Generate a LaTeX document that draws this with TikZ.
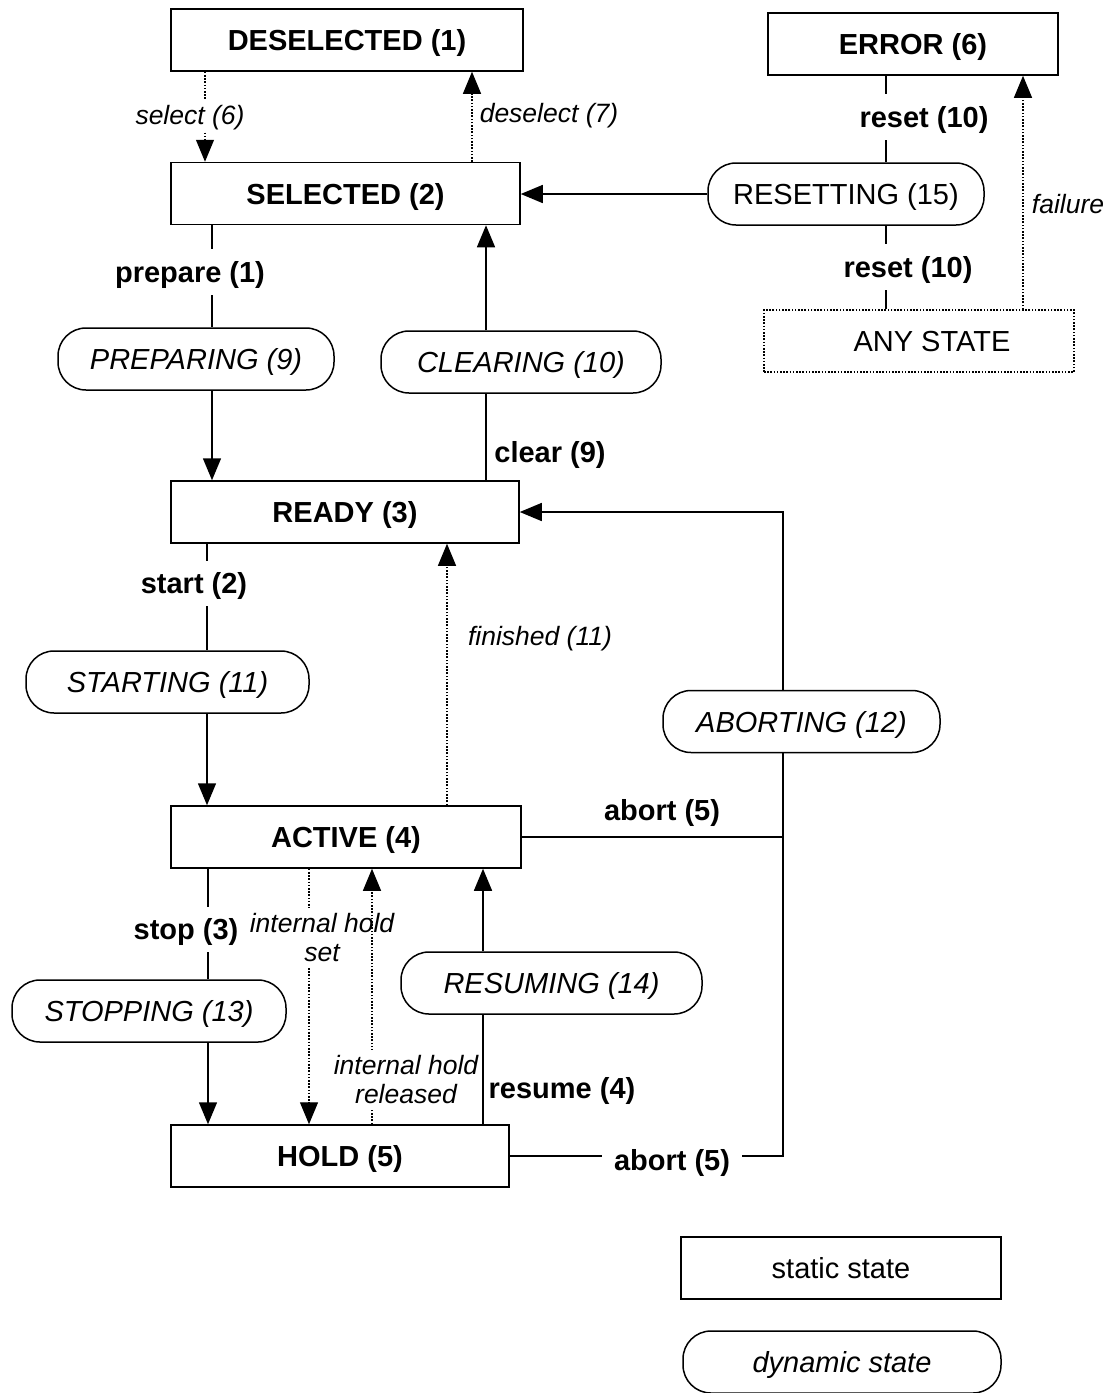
\documentclass[tikz,border=0pt]{standalone}
\usepackage{fontspec}
\setmainfont{Liberation Sans}
\usepackage{tikz}
\usetikzlibrary{calc}
\usetikzlibrary{arrows.meta}
\def\statefont{\fontsize{29}{33}\selectfont\bfseries}
\def\dynfont{\fontsize{29}{33}\selectfont\itshape}
\def\evfont{\fontsize{29}{33}\selectfont\bfseries}
\def\condfont{\fontsize{26.5}{31}\selectfont\itshape}

\begin{document}
\begin{tikzpicture}[x=1pt,y=-1pt,line width=1.5pt,
	staticstate/.style={draw,rectangle,minimum height=62pt,inner sep=0pt,text depth=0pt,font=\statefont},
	dynstate/.style={draw,rectangle,rounded corners=28pt,minimum height=62pt,inner sep=0pt,text depth=0pt,font=\dynfont},
	ev/.style={font=\evfont,inner sep=4pt,text depth=0pt},
	evcut/.style={ev,fill=white,inner sep=12pt},
	cond/.style={font=\condfont,inner sep=3pt,align=center},
	condcut/.style={cond,fill=white,inner sep=6pt},
	trans/.style={-{Triangle[width=18pt,length=22pt]}},
	dots/.style={line width=1.2pt,dash pattern=on 1.6pt off 1.6pt}]
	\useasboundingbox (0,0) rectangle (1119,1393);
	% columns
	\coordinate (c205) at (205,0);
	\coordinate (c207) at (207,0);
	\coordinate (c208) at (208,0);
	\coordinate (c212) at (212,0);
	\coordinate (c309) at (309,0);
	\coordinate (c372) at (372,0);
	\coordinate (c447) at (447,0);
	\coordinate (c472) at (472,0);
	\coordinate (c483) at (483,0);
	\coordinate (c486) at (486,0);
	\coordinate (c783) at (783,0);
	\coordinate (c886) at (886,0);
	\coordinate (c1023) at (1023,0);
	% states
	\node[staticstate,minimum width=352pt] (desel) at (347,40) {DESELECTED (1)};
	\node[staticstate,minimum width=349pt] (sel) at (345.5,193.5) {SELECTED (2)};
	\node[staticstate,minimum width=290pt] (err) at (913,44) {ERROR (6)};
	\node[dynstate,minimum width=276pt,font=\fontsize{29}{33}\selectfont] (resetting) at (846,194) {RESETTING (15)};
	\node[draw,dots,rectangle,minimum width=310pt,minimum height=62pt,inner sep=0pt,text depth=0pt,font=\fontsize{29}{33}\selectfont] (any) at (919,341) {\hspace*{26pt}ANY STATE};
	\node[dynstate,minimum width=276pt] (prep) at (196,359) {PREPARING (9)};
	\node[dynstate,minimum width=280pt] (clr) at (521,362) {CLEARING (10)};
	\node[staticstate,minimum width=348pt] (ready) at (345,512) {READY (3)};
	\node[dynstate,minimum width=283pt] (starting) at (167.5,682) {STARTING (11)};
	\node[dynstate,minimum width=277pt] (aborting) at (801.5,721.5) {ABORTING (12)};
	\node[staticstate,minimum width=350pt] (active) at (346,837) {ACTIVE (4)};
	\node[dynstate,minimum width=274pt] (stopping) at (149,1011) {STOPPING (13)};
	\node[dynstate,minimum width=301pt] (resuming) at (551.5,983) {RESUMING (14)};
	\node[staticstate,minimum width=338pt] (hold) at (340,1156) {HOLD (5)};
	% legend
	\node[staticstate,minimum width=320pt,font=\fontsize{29}{33}\selectfont] (lstatic) at (841,1268) {static state};
	\node[dynstate,minimum width=318pt] (ldyn) at (842,1362) {dynamic state};
	% transitions
	\draw[trans,dots] (desel.south -| c205) -- (sel.north -| c205);
	\node[condcut,text depth=0pt] (lselect) at (190,115) {select (6)};
	\draw[trans,dots] (sel.north -| c472) -- (desel.south -| c472);
	\node[cond,text depth=0pt] (ldeselect) at (549,113) {deselect (7)};
	\draw[trans] (resetting.west) -- (resetting.west -| sel.east);
	\draw (err.south -| c886) -- (resetting.north -| c886);
	\node[evcut] (lreset1) at (924,117) {reset (10)};
	\draw (resetting.south -| c886) -- (any.north -| c886);
	\node[evcut] (lreset2) at (908,267) {reset (10)};
	\draw[trans,dots] (any.north -| c1023) -- (err.south -| c1023);
	\node[cond,text depth=0pt] (lfailure) at (1068,204) {failure};
	\draw (sel.south -| c212) -- (prep.north -| c212);
	\node[evcut] (lprepare) at (190,272) {prepare (1)};
	\draw[trans] (prep.south -| c212) -- (ready.north -| c212);
	\draw (ready.north -| c486) -- (clr.south -| c486);
	\node[ev] (lclear) at (550,452) {clear (9)};
	\draw[trans] (clr.north -| c486) -- (sel.south -| c486);
	\draw (ready.south -| c207) -- (starting.north -| c207);
	\node[evcut] (lstart) at (194,583) {start (2)};
	\draw[trans] (starting.south -| c207) -- (active.north -| c207);
	\draw[trans,dots] (active.north -| c447) -- (ready.south -| c447);
	\node[cond,text depth=0pt] (lfinished) at (540,636) {finished (11)};
	\draw[trans] (aborting.north -| c783) |- (ready.east);
	\draw (active.east) -- (active.east -| c783);
	\node[ev] (labort1) at (662,810) {abort (5)};
	\draw (aborting.south -| c783) -- (hold.east -| c783) -- (hold.east);
	\node[evcut,inner xsep=12pt,inner ysep=4pt] (labort2) at (672,1160) {abort (5)};
	\draw (active.south -| c208) -- (stopping.north -| c208);
	\node[evcut,inner xsep=0pt] (lstop) at (186,929) {stop (3)};
	\draw[trans] (stopping.south -| c208) -- (hold.north -| c208);
	\draw[trans,dots] (active.south -| c309) -- (hold.north -| c309);
	\node[condcut,inner xsep=0pt] (lset) at (322,938) {internal hold\\[-2pt]set};
	\draw[trans,dots] (hold.north -| c372) -- (active.south -| c372);
	\node[condcut,inner xsep=2pt] (lreleased) at (406,1080) {internal hold\\[-2pt]released};
	\draw (hold.north -| c483) -- (resuming.south -| c483);
	\node[ev] (lresume) at (562,1088) {resume (4)};
	\draw[trans] (resuming.north -| c483) -- (active.south -| c483);
\end{tikzpicture}
\end{document}
